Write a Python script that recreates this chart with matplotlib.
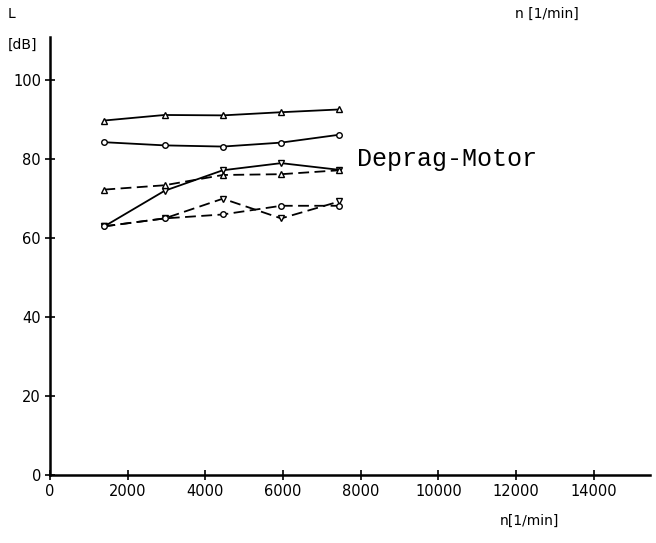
import matplotlib
matplotlib.use("Agg")
import matplotlib.pyplot as plt

# speed points [1/min]
n = [1400, 2950, 4450, 5950, 7450]

# sound level [dB], solid lines
up_solid = [89.8, 91.2, 91.1, 91.9, 92.6]
circ_solid = [84.3, 83.5, 83.2, 84.2, 86.2]
down_solid = [63.0, 72.0, 77.2, 79.0, 77.3]

# sound level [dB], dashed lines
up_dash = [72.3, 73.4, 76.0, 76.2, 77.2]
down_dash = [63.0, 65.0, 70.0, 65.0, 69.3]
circ_dash = [63.0, 65.0, 66.0, 68.2, 68.2]

xticks = [0, 2000, 4000, 6000, 8000, 10000, 12000, 14000]
yticks = [0, 20, 40, 60, 80, 100]

fig = plt.figure(figsize=(6.56, 5.43), dpi=100)
ax = fig.add_axes([0.0762, 0.1252, 0.915, 0.807])

kw = dict(color='black', lw=1.3, ms=4, mfc='white', mew=1.0)
ax.plot(n, up_solid, '-', marker='^', **kw)
ax.plot(n, circ_solid, '-', marker='o', **kw)
ax.plot(n, down_solid, '-', marker='v', **kw)
ax.plot(n, up_dash, '--', marker='^', dashes=(6, 3), **kw)
ax.plot(n, down_dash, '--', marker='v', dashes=(6, 3), **kw)
ax.plot(n, circ_dash, '--', marker='o', dashes=(6, 3), **kw)

ax.set_xlim(0, 15450)
ax.set_ylim(0, 111)
ax.set_xticks(xticks)
ax.set_yticks(yticks)
ax.spines['top'].set_visible(False)
ax.spines['right'].set_visible(False)
ax.spines['left'].set_linewidth(1.8)
ax.spines['bottom'].set_linewidth(1.8)
ax.tick_params(direction='inout', length=7, width=1.2, labelsize=10.5, pad=3)

fig.text(0.012, 0.975, 'L', fontsize=10, va='center')
fig.text(0.012, 0.917, '[dB]', fontsize=10, va='center')
fig.text(0.785, 0.975, 'n [1/min]', fontsize=10, va='center')
fig.text(0.762, 0.04, 'n[1/min]', fontsize=10, va='center')
ax.text(7900, 80, 'Deprag-Motor', family='Liberation Mono', fontsize=18, va='center')

fig.savefig('out.png', dpi=100)
